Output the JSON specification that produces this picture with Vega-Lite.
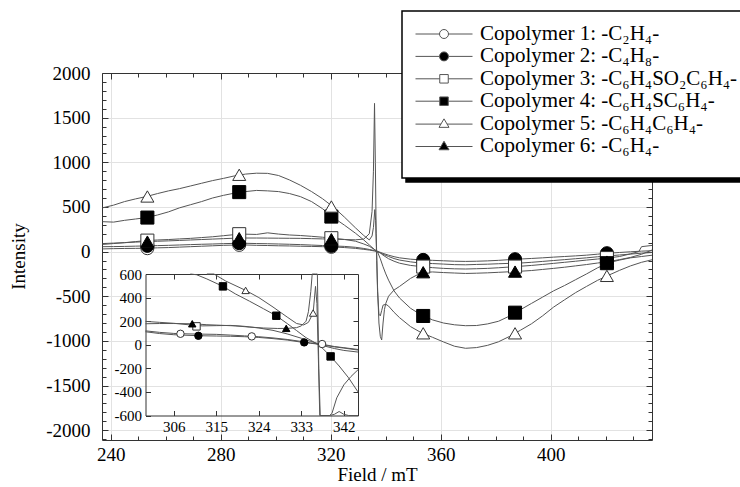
{
"$schema": "https://vega.github.io/schema/vega-lite/v6.json",
"width": 550, "height": 367,
"autosize": {"type": "none"},
"padding": {"left": 102, "top": 73, "right": 88, "bottom": 47},
"background": "white",
"config": {
  "font": "Liberation Serif",
  "view": {"stroke": null},
  "legend": {"strokeWidth": 1.5},
  "axis": {"labelFont": "Liberation Serif", "titleFont": "Liberation Serif", "labelColor": "black", "titleColor": "black", "titleFontWeight": "normal", "domainColor": "#333", "tickColor": "#333", "grid": false, "labelOverlap": false, "labelFlush": false, "labelBound": false}
},
"datasets": {
"legend": [
 {"name": "Copolymer 1: -C₂H₄-"},
 {"name": "Copolymer 2: -C₄H₈-"},
 {"name": "Copolymer 3: -C₆H₄SO₂C₆H₄-"},
 {"name": "Copolymer 4: -C₆H₄SC₆H₄-"},
 {"name": "Copolymer 5: -C₆H₄C₆H₄-"},
 {"name": "Copolymer 6: -C₆H₄-"}
],
"mainPts": [
 {"s":"1","x":253.3,"y":38},{"s":"1","x":286.7,"y":75},{"s":"1","x":320.2,"y":53},{"s":"1","x":353.6,"y":-130},{"s":"1","x":387.0,"y":-130},{"s":"1","x":420.4,"y":-48},
 {"s":"2","x":253.3,"y":64},{"s":"2","x":286.7,"y":94},{"s":"2","x":320.2,"y":64},{"s":"2","x":353.6,"y":-93},{"s":"2","x":387.0,"y":-85},{"s":"2","x":420.4,"y":-18},
 {"s":"3","x":253.3,"y":123},{"s":"3","x":286.7,"y":195},{"s":"3","x":320.2,"y":150},{"s":"3","x":353.6,"y":-168},{"s":"3","x":387.0,"y":-168},{"s":"3","x":420.4,"y":-73},
 {"s":"4","x":253.3,"y":381},{"s":"4","x":286.7,"y":666},{"s":"4","x":320.2,"y":392},{"s":"4","x":353.6,"y":-721},{"s":"4","x":387.0,"y":-684},{"s":"4","x":420.4,"y":-130},
 {"s":"5","x":253.3,"y":617},{"s":"5","x":286.7,"y":860},{"s":"5","x":320.2,"y":505},{"s":"5","x":353.6,"y":-915},{"s":"5","x":387.0,"y":-915},{"s":"5","x":420.4,"y":-272},
 {"s":"6","x":253.3,"y":112},{"s":"6","x":286.7,"y":150},{"s":"6","x":320.2,"y":139},{"s":"6","x":353.6,"y":-231},{"s":"6","x":387.0,"y":-224},{"s":"6","x":420.4,"y":-112}
],
"main": [
 {"s":"1","x":237,"y":30},{"s":"1","x":241,"y":33},{"s":"1","x":245,"y":35},{"s":"1","x":249,"y":36},{"s":"1","x":253,"y":38},{"s":"1","x":257,"y":42},{"s":"1","x":261,"y":45},{"s":"1","x":265,"y":50},{"s":"1","x":269,"y":55},{"s":"1","x":273,"y":60},{"s":"1","x":277,"y":65},{"s":"1","x":281,"y":70},{"s":"1","x":285,"y":73},{"s":"1","x":289,"y":74},{"s":"1","x":293,"y":70},{"s":"1","x":297,"y":68},{"s":"1","x":301,"y":65},{"s":"1","x":305,"y":63},{"s":"1","x":309,"y":60},{"s":"1","x":313,"y":58},{"s":"1","x":317,"y":55},{"s":"1","x":321,"y":52},{"s":"1","x":325,"y":45},{"s":"1","x":329,"y":36},{"s":"1","x":332,"y":25},{"s":"1","x":334,"y":17},{"s":"1","x":336,"y":6},{"s":"1","x":337,"y":-3},{"s":"1","x":338,"y":-15},{"s":"1","x":339,"y":-30},{"s":"1","x":341,"y":-55},{"s":"1","x":343,"y":-78},{"s":"1","x":345,"y":-95},{"s":"1","x":349,"y":-115},{"s":"1","x":353,"y":-130},{"s":"1","x":357,"y":-134},{"s":"1","x":361,"y":-140},{"s":"1","x":365,"y":-146},{"s":"1","x":369,"y":-148},{"s":"1","x":373,"y":-144},{"s":"1","x":377,"y":-141},{"s":"1","x":381,"y":-136},{"s":"1","x":385,"y":-132},{"s":"1","x":389,"y":-128},{"s":"1","x":393,"y":-120},{"s":"1","x":397,"y":-110},{"s":"1","x":401,"y":-100},{"s":"1","x":405,"y":-90},{"s":"1","x":409,"y":-80},{"s":"1","x":413,"y":-70},{"s":"1","x":417,"y":-58},{"s":"1","x":421,"y":-48},{"s":"1","x":425,"y":-38},{"s":"1","x":429,"y":-28},{"s":"1","x":433,"y":-18},{"s":"1","x":437,"y":-10},
 {"s":"2","x":237,"y":55},{"s":"2","x":241,"y":56},{"s":"2","x":245,"y":58},{"s":"2","x":249,"y":61},{"s":"2","x":253,"y":64},{"s":"2","x":257,"y":67},{"s":"2","x":261,"y":70},{"s":"2","x":265,"y":74},{"s":"2","x":269,"y":78},{"s":"2","x":273,"y":82},{"s":"2","x":277,"y":85},{"s":"2","x":281,"y":89},{"s":"2","x":285,"y":92},{"s":"2","x":289,"y":93},{"s":"2","x":293,"y":90},{"s":"2","x":297,"y":88},{"s":"2","x":301,"y":85},{"s":"2","x":305,"y":82},{"s":"2","x":309,"y":78},{"s":"2","x":313,"y":73},{"s":"2","x":317,"y":68},{"s":"2","x":321,"y":63},{"s":"2","x":325,"y":58},{"s":"2","x":329,"y":48},{"s":"2","x":332,"y":35},{"s":"2","x":334,"y":24},{"s":"2","x":336,"y":10},{"s":"2","x":337,"y":2},{"s":"2","x":338,"y":-8},{"s":"2","x":339,"y":-20},{"s":"2","x":341,"y":-40},{"s":"2","x":343,"y":-57},{"s":"2","x":345,"y":-70},{"s":"2","x":349,"y":-85},{"s":"2","x":353,"y":-93},{"s":"2","x":357,"y":-98},{"s":"2","x":361,"y":-103},{"s":"2","x":365,"y":-108},{"s":"2","x":369,"y":-110},{"s":"2","x":373,"y":-108},{"s":"2","x":377,"y":-104},{"s":"2","x":381,"y":-98},{"s":"2","x":385,"y":-90},{"s":"2","x":389,"y":-83},{"s":"2","x":393,"y":-77},{"s":"2","x":397,"y":-70},{"s":"2","x":401,"y":-62},{"s":"2","x":405,"y":-55},{"s":"2","x":409,"y":-48},{"s":"2","x":413,"y":-40},{"s":"2","x":417,"y":-29},{"s":"2","x":421,"y":-18},{"s":"2","x":425,"y":-10},{"s":"2","x":429,"y":-2},{"s":"2","x":433,"y":5},{"s":"2","x":437,"y":10},
 {"s":"3","x":237,"y":80},{"s":"3","x":241,"y":90},{"s":"3","x":245,"y":100},{"s":"3","x":249,"y":112},{"s":"3","x":253,"y":123},{"s":"3","x":257,"y":130},{"s":"3","x":261,"y":135},{"s":"3","x":265,"y":142},{"s":"3","x":269,"y":148},{"s":"3","x":273,"y":157},{"s":"3","x":277,"y":166},{"s":"3","x":281,"y":178},{"s":"3","x":285,"y":190},{"s":"3","x":289,"y":195},{"s":"3","x":293,"y":192},{"s":"3","x":297,"y":210},{"s":"3","x":301,"y":196},{"s":"3","x":305,"y":186},{"s":"3","x":309,"y":180},{"s":"3","x":313,"y":171},{"s":"3","x":317,"y":161},{"s":"3","x":321,"y":149},{"s":"3","x":325,"y":136},{"s":"3","x":329,"y":116},{"s":"3","x":332,"y":85},{"s":"3","x":334,"y":60},{"s":"3","x":336,"y":20},{"s":"3","x":337,"y":3},{"s":"3","x":338,"y":-15},{"s":"3","x":339,"y":-40},{"s":"3","x":341,"y":-80},{"s":"3","x":343,"y":-108},{"s":"3","x":345,"y":-130},{"s":"3","x":349,"y":-155},{"s":"3","x":353,"y":-168},{"s":"3","x":357,"y":-180},{"s":"3","x":361,"y":-188},{"s":"3","x":365,"y":-193},{"s":"3","x":369,"y":-195},{"s":"3","x":373,"y":-192},{"s":"3","x":377,"y":-188},{"s":"3","x":381,"y":-181},{"s":"3","x":385,"y":-173},{"s":"3","x":389,"y":-164},{"s":"3","x":393,"y":-155},{"s":"3","x":397,"y":-144},{"s":"3","x":401,"y":-132},{"s":"3","x":405,"y":-120},{"s":"3","x":409,"y":-108},{"s":"3","x":413,"y":-95},{"s":"3","x":417,"y":-83},{"s":"3","x":421,"y":-71},{"s":"3","x":425,"y":-55},{"s":"3","x":429,"y":-25},{"s":"3","x":432,"y":0},{"s":"3","x":433,"y":55},{"s":"3","x":437,"y":70},
 {"s":"4","x":237,"y":335},{"s":"4","x":241,"y":330},{"s":"4","x":245,"y":350},{"s":"4","x":249,"y":365},{"s":"4","x":253,"y":381},{"s":"4","x":257,"y":410},{"s":"4","x":261,"y":445},{"s":"4","x":265,"y":490},{"s":"4","x":269,"y":525},{"s":"4","x":273,"y":560},{"s":"4","x":277,"y":600},{"s":"4","x":281,"y":630},{"s":"4","x":285,"y":655},{"s":"4","x":289,"y":672},{"s":"4","x":293,"y":685},{"s":"4","x":297,"y":680},{"s":"4","x":301,"y":672},{"s":"4","x":305,"y":650},{"s":"4","x":309,"y":615},{"s":"4","x":313,"y":560},{"s":"4","x":317,"y":480},{"s":"4","x":321,"y":380},{"s":"4","x":325,"y":295},{"s":"4","x":329,"y":205},{"s":"4","x":332,"y":130},{"s":"4","x":334,"y":75},{"s":"4","x":336,"y":20},{"s":"4","x":337,"y":-5},{"s":"4","x":338,"y":-80},{"s":"4","x":339,"y":-170},{"s":"4","x":340,"y":-250},{"s":"4","x":341,"y":-320},{"s":"4","x":343,"y":-440},{"s":"4","x":345,"y":-520},{"s":"4","x":349,"y":-635},{"s":"4","x":353,"y":-712},{"s":"4","x":357,"y":-765},{"s":"4","x":361,"y":-800},{"s":"4","x":365,"y":-820},{"s":"4","x":369,"y":-830},{"s":"4","x":373,"y":-828},{"s":"4","x":377,"y":-810},{"s":"4","x":381,"y":-780},{"s":"4","x":385,"y":-722},{"s":"4","x":389,"y":-650},{"s":"4","x":393,"y":-580},{"s":"4","x":397,"y":-510},{"s":"4","x":401,"y":-440},{"s":"4","x":405,"y":-380},{"s":"4","x":409,"y":-315},{"s":"4","x":413,"y":-250},{"s":"4","x":417,"y":-182},{"s":"4","x":421,"y":-125},{"s":"4","x":425,"y":-95},{"s":"4","x":429,"y":-70},{"s":"4","x":433,"y":-55},{"s":"4","x":437,"y":-40},
 {"s":"5","x":237,"y":490},{"s":"5","x":241,"y":520},{"s":"5","x":245,"y":560},{"s":"5","x":249,"y":590},{"s":"5","x":253,"y":617},{"s":"5","x":257,"y":650},{"s":"5","x":261,"y":680},{"s":"5","x":265,"y":705},{"s":"5","x":269,"y":735},{"s":"5","x":273,"y":765},{"s":"5","x":277,"y":795},{"s":"5","x":281,"y":820},{"s":"5","x":285,"y":848},{"s":"5","x":289,"y":868},{"s":"5","x":293,"y":878},{"s":"5","x":297,"y":876},{"s":"5","x":301,"y":852},{"s":"5","x":305,"y":802},{"s":"5","x":309,"y":742},{"s":"5","x":313,"y":672},{"s":"5","x":317,"y":592},{"s":"5","x":321,"y":497},{"s":"5","x":325,"y":385},{"s":"5","x":329,"y":265},{"s":"5","x":332,"y":180},{"s":"5","x":334,"y":130},{"s":"5","x":335,"y":175},{"s":"5","x":335.5,"y":270},{"s":"5","x":336,"y":470},{"s":"5","x":336.3,"y":350},{"s":"5","x":336.7,"y":-100},{"s":"5","x":337,"y":-450},{"s":"5","x":337.5,"y":-700},{"s":"5","x":338,"y":-720},{"s":"5","x":338.5,"y":-660},{"s":"5","x":339,"y":-600},{"s":"5","x":340,"y":-590},{"s":"5","x":341,"y":-610},{"s":"5","x":343,"y":-680},{"s":"5","x":345,"y":-740},{"s":"5","x":349,"y":-840},{"s":"5","x":353,"y":-910},{"s":"5","x":357,"y":-960},{"s":"5","x":361,"y":-1012},{"s":"5","x":365,"y":-1060},{"s":"5","x":369,"y":-1083},{"s":"5","x":373,"y":-1075},{"s":"5","x":377,"y":-1050},{"s":"5","x":381,"y":-1010},{"s":"5","x":385,"y":-950},{"s":"5","x":389,"y":-880},{"s":"5","x":393,"y":-808},{"s":"5","x":397,"y":-720},{"s":"5","x":401,"y":-622},{"s":"5","x":405,"y":-540},{"s":"5","x":409,"y":-460},{"s":"5","x":413,"y":-390},{"s":"5","x":417,"y":-322},{"s":"5","x":421,"y":-265},{"s":"5","x":425,"y":-210},{"s":"5","x":429,"y":-160},{"s":"5","x":433,"y":-120},{"s":"5","x":437,"y":-90},
 {"s":"6","x":237,"y":90},{"s":"6","x":241,"y":95},{"s":"6","x":245,"y":100},{"s":"6","x":249,"y":106},{"s":"6","x":253,"y":112},{"s":"6","x":257,"y":116},{"s":"6","x":261,"y":120},{"s":"6","x":265,"y":125},{"s":"6","x":269,"y":130},{"s":"6","x":273,"y":135},{"s":"6","x":277,"y":140},{"s":"6","x":281,"y":145},{"s":"6","x":285,"y":150},{"s":"6","x":289,"y":152},{"s":"6","x":293,"y":152},{"s":"6","x":297,"y":151},{"s":"6","x":301,"y":150},{"s":"6","x":305,"y":149},{"s":"6","x":309,"y":148},{"s":"6","x":313,"y":145},{"s":"6","x":317,"y":142},{"s":"6","x":321,"y":139},{"s":"6","x":325,"y":135},{"s":"6","x":329,"y":132},{"s":"6","x":332,"y":140},{"s":"6","x":334,"y":200},{"s":"6","x":335,"y":450},{"s":"6","x":335.5,"y":900},{"s":"6","x":335.9,"y":1660},{"s":"6","x":336.2,"y":1000},{"s":"6","x":336.5,"y":200},{"s":"6","x":337,"y":-400},{"s":"6","x":337.5,"y":-800},{"s":"6","x":338,"y":-950},{"s":"6","x":338.5,"y":-990},{"s":"6","x":339,"y":-800},{"s":"6","x":339.5,"y":-650},{"s":"6","x":340,"y":-580},{"s":"6","x":341,"y":-500},{"s":"6","x":343,"y":-430},{"s":"6","x":345,"y":-390},{"s":"6","x":349,"y":-300},{"s":"6","x":353,"y":-235},{"s":"6","x":357,"y":-228},{"s":"6","x":361,"y":-235},{"s":"6","x":365,"y":-240},{"s":"6","x":369,"y":-245},{"s":"6","x":373,"y":-242},{"s":"6","x":377,"y":-238},{"s":"6","x":381,"y":-232},{"s":"6","x":385,"y":-226},{"s":"6","x":389,"y":-220},{"s":"6","x":393,"y":-212},{"s":"6","x":397,"y":-200},{"s":"6","x":401,"y":-188},{"s":"6","x":405,"y":-175},{"s":"6","x":409,"y":-160},{"s":"6","x":413,"y":-145},{"s":"6","x":417,"y":-128},{"s":"6","x":421,"y":-112},{"s":"6","x":425,"y":-90},{"s":"6","x":429,"y":-65},{"s":"6","x":433,"y":-30},{"s":"6","x":437,"y":20}
],
"insetPts": [
 {"s":"1","x":307.4,"y":93},{"s":"1","x":322.5,"y":71},{"s":"1","x":337.4,"y":6},
 {"s":"2","x":311.2,"y":76},{"s":"2","x":333.6,"y":20},
 {"s":"3","x":310.8,"y":156},
 {"s":"4","x":316.4,"y":495},{"s":"4","x":327.7,"y":246},{"s":"4","x":339.2,"y":-99},
 {"s":"5","x":321.2,"y":461},{"s":"5","x":335.5,"y":269},
 {"s":"6","x":309.9,"y":178},{"s":"6","x":329.8,"y":139}
],
"inset": [
 {"s":"1","x":300,"y":118},{"s":"1","x":303,"y":105},{"s":"1","x":306,"y":96},{"s":"1","x":309,"y":92},{"s":"1","x":312,"y":90},{"s":"1","x":315,"y":88},{"s":"1","x":318,"y":82},{"s":"1","x":321,"y":75},{"s":"1","x":324,"y":68},{"s":"1","x":327,"y":58},{"s":"1","x":330,"y":45},{"s":"1","x":333,"y":28},{"s":"1","x":335,"y":15},{"s":"1","x":336.7,"y":6},{"s":"1","x":338,"y":0},{"s":"1","x":340,"y":-15},{"s":"1","x":342,"y":-25},{"s":"1","x":345,"y":-40},
 {"s":"2","x":300,"y":110},{"s":"2","x":303,"y":95},{"s":"2","x":306,"y":85},{"s":"2","x":309,"y":80},{"s":"2","x":312,"y":76},{"s":"2","x":315,"y":74},{"s":"2","x":318,"y":72},{"s":"2","x":321,"y":68},{"s":"2","x":324,"y":62},{"s":"2","x":327,"y":52},{"s":"2","x":330,"y":40},{"s":"2","x":333,"y":22},{"s":"2","x":335,"y":12},{"s":"2","x":336.7,"y":5},{"s":"2","x":338,"y":-5},{"s":"2","x":340,"y":-18},{"s":"2","x":342,"y":-28},{"s":"2","x":345,"y":-45},
 {"s":"3","x":300,"y":198},{"s":"3","x":303,"y":190},{"s":"3","x":306,"y":182},{"s":"3","x":309,"y":170},{"s":"3","x":312,"y":160},{"s":"3","x":315,"y":162},{"s":"3","x":318,"y":164},{"s":"3","x":321,"y":156},{"s":"3","x":324,"y":142},{"s":"3","x":327,"y":122},{"s":"3","x":330,"y":92},{"s":"3","x":333,"y":55},{"s":"3","x":335,"y":28},{"s":"3","x":336.7,"y":8},{"s":"3","x":338,"y":-12},{"s":"3","x":340,"y":-32},{"s":"3","x":342,"y":-48},{"s":"3","x":345,"y":-62},
 {"s":"4","x":309.5,"y":625},{"s":"4","x":310.8,"y":594},{"s":"4","x":313,"y":558},{"s":"4","x":316.4,"y":495},{"s":"4","x":319,"y":432},{"s":"4","x":322,"y":370},{"s":"4","x":325,"y":305},{"s":"4","x":327.7,"y":246},{"s":"4","x":330,"y":180},{"s":"4","x":332,"y":120},{"s":"4","x":334,"y":60},{"s":"4","x":336,"y":15},{"s":"4","x":337.5,"y":-30},{"s":"4","x":339.2,"y":-99},{"s":"4","x":341,"y":-180},{"s":"4","x":343,"y":-280},{"s":"4","x":345,"y":-400},
 {"s":"5","x":313,"y":630},{"s":"5","x":314.5,"y":600},{"s":"5","x":317,"y":540},{"s":"5","x":321.2,"y":461},{"s":"5","x":324,"y":400},{"s":"5","x":327,"y":320},{"s":"5","x":330,"y":235},{"s":"5","x":332,"y":180},{"s":"5","x":333.5,"y":168},{"s":"5","x":334.5,"y":190},{"s":"5","x":335.5,"y":269},{"s":"5","x":336,"y":495},{"s":"5","x":336.3,"y":350},{"s":"5","x":336.6,"y":-100},{"s":"5","x":336.9,"y":-700},{"s":"5","x":338,"y":-800},{"s":"5","x":339,"y":-650},{"s":"5","x":340,"y":-590},{"s":"5","x":341,"y":-566},{"s":"5","x":342,"y":-590},{"s":"5","x":343,"y":-640},{"s":"5","x":345,"y":-700},
 {"s":"6","x":300,"y":178},{"s":"6","x":303,"y":180},{"s":"6","x":306,"y":180},{"s":"6","x":309.9,"y":178},{"s":"6","x":313,"y":170},{"s":"6","x":316,"y":165},{"s":"6","x":319,"y":160},{"s":"6","x":322,"y":150},{"s":"6","x":325,"y":142},{"s":"6","x":328,"y":138},{"s":"6","x":330,"y":139},{"s":"6","x":332,"y":145},{"s":"6","x":333,"y":160},{"s":"6","x":334,"y":200},{"s":"6","x":334.5,"y":280},{"s":"6","x":335,"y":450},{"s":"6","x":335.3,"y":650},{"s":"6","x":336,"y":1500},{"s":"6","x":336.4,"y":700},{"s":"6","x":336.7,"y":-200},{"s":"6","x":337,"y":-900},{"s":"6","x":338,"y":-1000},{"s":"6","x":339,"y":-700},{"s":"6","x":339.5,"y":-580},{"s":"6","x":340.5,"y":-450},{"s":"6","x":342,"y":-340},{"s":"6","x":343.5,"y":-270},{"s":"6","x":345,"y":-212}
]
},
"layer": [
 {
  "layer": [
   {
    "data": {"name": "main"},
    "mark": {"type": "line", "color": "#555", "strokeWidth": 1, "clip": true},
    "encoding": {
     "x": {"field": "x", "type": "quantitative", "scale": {"domain": [236.8, 436.8], "nice": false, "zero": false},
       "axis": {"orient": "bottom", "values": [240, 280, 320, 360, 400], "tickSize": -6, "labelPadding": 11, "labelFontSize": 19, "labelExpr": "'' + datum.value", "grid": true, "gridColor": "#e2e2e2", "domain": true, "title": "Field / mT", "titleFontSize": 19, "titleX": 275, "titleY": 34, "titleBaseline": "middle", "titleAlign": "center"}},
     "y": {"field": "y", "type": "quantitative", "scale": {"domain": [-2110, 2000], "nice": false, "zero": false},
       "axis": {"orient": "left", "values": [-2000, -1500, -1000, -500, 0, 500, 1000, 1500, 2000], "tickSize": -6, "labelPadding": 18, "labelFontSize": 19, "labelExpr": "'' + datum.value", "grid": true, "gridColor": "#e2e2e2", "domain": true, "title": "Intensity", "titleFontSize": 19, "titleX": -84, "titleY": 183, "titleAngle": 270, "titleBaseline": "middle", "titleAlign": "center"}},
     "detail": {"field": "s", "type": "nominal"}
    }
   },
   {
    "data": {"name": "mainPts"},
    "mark": {"type": "point", "size": 170, "strokeWidth": 1, "opacity": 1},
    "encoding": {
     "x": {"field": "x", "type": "quantitative", "axis": {"orient": "bottom", "values": [250, 260, 270, 290, 300, 310, 330, 340, 350, 370, 380, 390, 410, 420, 430], "tickSize": -4, "labels": false, "domain": false, "grid": false, "title": null}},
     "y": {"field": "y", "type": "quantitative", "axis": {"orient": "left", "values": [-2100, -1900, -1800, -1700, -1600, -1400, -1300, -1200, -1100, -900, -800, -700, -600, -400, -300, -200, -100, 100, 200, 300, 400, 600, 700, 800, 900, 1100, 1200, 1300, 1400, 1600, 1700, 1800, 1900], "tickSize": -4, "labels": false, "domain": false, "grid": false, "title": null}},
     "shape": {"field": "s", "type": "nominal", "scale": {"domain": ["1", "2", "3", "4", "5", "6"], "range": ["circle", "circle", "square", "square", "triangle-up", "triangle-up"]}, "legend": null},
     "fill": {"field": "s", "type": "nominal", "scale": {"domain": ["1", "2", "3", "4", "5", "6"], "range": ["white", "black", "white", "black", "white", "black"]}, "legend": null},
     "stroke": {"field": "s", "type": "nominal", "scale": {"domain": ["1", "2", "3", "4", "5", "6"], "range": ["#333", "black", "#333", "black", "#333", "black"]}, "legend": null}
    }
   },
   {
    "data": {"name": "mainPts"},
    "mark": {"type": "point", "opacity": 0},
    "encoding": {
     "x": {"field": "x", "type": "quantitative", "axis": {"orient": "top", "values": [240, 280, 320, 360, 400], "tickSize": -6, "labels": false, "domain": true, "grid": false, "title": null}},
     "y": {"field": "y", "type": "quantitative", "axis": {"orient": "right", "values": [-2000, -1500, -1000, -500, 0, 500, 1000, 1500, 2000], "tickSize": -6, "labels": false, "domain": true, "grid": false, "title": null}}
    }
   },
   {
    "data": {"name": "mainPts"},
    "mark": {"type": "point", "opacity": 0},
    "encoding": {
     "x": {"field": "x", "type": "quantitative", "axis": {"orient": "top", "values": [250, 260, 270, 290, 300, 310, 330, 340, 350, 370, 380, 390, 410, 420, 430], "tickSize": -4, "labels": false, "domain": false, "grid": false, "title": null}},
     "y": {"field": "y", "type": "quantitative", "axis": {"orient": "right", "values": [-2100, -1900, -1800, -1700, -1600, -1400, -1300, -1200, -1100, -900, -800, -700, -600, -400, -300, -200, -100, 100, 200, 300, 400, 600, 700, 800, 900, 1100, 1200, 1300, 1400, 1600, 1700, 1800, 1900], "tickSize": -4, "labels": false, "domain": false, "grid": false, "title": null}}
    }
   }
  ],
  "resolve": {"axis": {"x": "independent", "y": "independent"}}
 },
 {
  "layer": [
   {
    "data": {"name": "inset"},
    "mark": {"type": "line", "color": "#555", "strokeWidth": 1},
    "encoding": {
     "x": {"field": "x", "type": "quantitative", "scale": {"domain": [300, 345], "range": [43.5, 256], "nice": false, "zero": false},
       "axis": {"orient": "bottom", "offset": -24.5, "values": [306, 315, 324, 333, 342], "tickSize": -5, "labelPadding": 9, "labelFontSize": 15, "labelExpr": "'' + datum.value", "domain": true, "grid": false, "title": null}},
     "y": {"field": "y", "type": "quantitative", "scale": {"domain": [-600, 600], "range": [342.5, 201], "nice": false, "zero": false, "clamp": true},
       "axis": {"orient": "left", "offset": -43.5, "values": [-600, -400, -200, 0, 200, 400, 600], "tickSize": -5, "labelPadding": 9, "labelFontSize": 15, "labelExpr": "'' + datum.value", "domain": true, "grid": false, "title": null}},
     "detail": {"field": "s", "type": "nominal"}
    }
   },
   {
    "data": {"name": "insetPts"},
    "mark": {"type": "point", "size": 55, "strokeWidth": 1, "opacity": 1},
    "encoding": {
     "x": {"field": "x", "type": "quantitative", "axis": {"orient": "top", "offset": -201, "values": [306, 315, 324, 333, 342], "tickSize": -5, "labels": false, "domain": true, "grid": false, "title": null}},
     "y": {"field": "y", "type": "quantitative", "axis": {"orient": "right", "offset": -294, "values": [-400, -200, 0, 200, 400], "tickSize": -5, "labels": false, "domain": true, "grid": false, "title": null}},
     "shape": {"field": "s", "type": "nominal", "scale": {"domain": ["1", "2", "3", "4", "5", "6"], "range": ["circle", "circle", "square", "square", "triangle-up", "triangle-up"]}, "legend": null},
     "fill": {"field": "s", "type": "nominal", "scale": {"domain": ["1", "2", "3", "4", "5", "6"], "range": ["white", "black", "white", "black", "white", "black"]}, "legend": null},
     "stroke": {"field": "s", "type": "nominal", "scale": {"domain": ["1", "2", "3", "4", "5", "6"], "range": ["#333", "black", "#333", "black", "#333", "black"]}, "legend": null}
    }
   }
  ],
  "resolve": {"axis": {"x": "independent", "y": "independent"}}
 },
 {
  "data": {"name": "legend"},
  "transform": [{"filter": "isValid(datum.name)"}],
  "mark": {"type": "point", "size": 0, "filled": true},
  "encoding": {
   "color": {"field": "name", "type": "nominal", "scale": {"range": ["black"]},
     "legend": {"orient": "none", "legendX": 304, "legendY": -58, "title": " ", "titleOrient": "bottom", "titleFontSize": 6, "titlePadding": 3, "fillColor": "black", "strokeColor": "black", "padding": 12.5, "symbolSize": 100, "symbolOffset": 19, "labelOffset": 25.5, "labelFont": "Liberation Serif", "labelFontSize": 21, "labelColor": "black", "labelLimit": 600, "rowPadding": 0.4, "zindex": 1}}
  }
 },
 {
  "data": {"name": "legend"},
  "mark": {"type": "point", "opacity": 0},
  "encoding": {
   "shape": {"field": "name", "type": "nominal",
     "scale": {"domain": ["Copolymer 1: -C₂H₄-", "Copolymer 2: -C₄H₈-", "Copolymer 3: -C₆H₄SO₂C₆H₄-", "Copolymer 4: -C₆H₄SC₆H₄-", "Copolymer 5: -C₆H₄C₆H₄-", "Copolymer 6: -C₆H₄-"],
       "range": ["M-5.7,0H-0.9M0.9,0H5.7M-0.9,0A0.9,0.9,0,1,1,0.9,0A0.9,0.9,0,1,1,-0.9,0Z", "M-5.7,0H-0.9M0.9,0H5.7M-0.9,0A0.9,0.9,0,1,1,0.9,0A0.9,0.9,0,1,1,-0.9,0Z", "M-5.7,0H-0.85M0.85,0H5.7M-0.85,-0.85H0.85V0.85H-0.85Z", "M-5.7,0H-0.85M0.85,0H5.7M-0.85,-0.85H0.85V0.85H-0.85Z", "M-5.7,0.1H-0.6M0.6,0.1H5.7M0,-0.95L1,0.75H-1Z", "M-5.7,0.1H-0.6M0.6,0.1H5.7M0,-0.95L1,0.75H-1Z"]},
     "legend": {"orient": "none", "legendX": 300, "legendY": -62, "title": " ", "titleOrient": "bottom", "titleFontSize": 6, "titlePadding": 3, "fillColor": "white", "strokeColor": "black", "padding": 12.5, "symbolSize": 100, "symbolStrokeWidth": 1, "symbolOpacity": 1, "symbolOffset": 19, "labelOffset": 25.5, "labelFont": "Liberation Serif", "labelFontSize": 21, "labelColor": "black", "labelLimit": 600, "rowPadding": 0.4, "zindex": 2}},
   "fill": {"field": "name", "type": "nominal",
     "scale": {"domain": ["Copolymer 1: -C₂H₄-", "Copolymer 2: -C₄H₈-", "Copolymer 3: -C₆H₄SO₂C₆H₄-", "Copolymer 4: -C₆H₄SC₆H₄-", "Copolymer 5: -C₆H₄C₆H₄-", "Copolymer 6: -C₆H₄-"], "range": ["white", "black", "white", "black", "white", "black"]},
     "legend": {"orient": "none", "legendX": 300, "legendY": -62, "title": " ", "titleOrient": "bottom", "titleFontSize": 6, "titlePadding": 3, "fillColor": "white", "strokeColor": "black", "padding": 12.5, "symbolSize": 100, "symbolStrokeWidth": 1, "symbolOpacity": 1, "symbolOffset": 19, "labelOffset": 25.5, "labelFont": "Liberation Serif", "labelFontSize": 21, "labelColor": "black", "labelLimit": 600, "rowPadding": 0.4, "zindex": 2}},
   "stroke": {"field": "name", "type": "nominal",
     "scale": {"domain": ["Copolymer 1: -C₂H₄-", "Copolymer 2: -C₄H₈-", "Copolymer 3: -C₆H₄SO₂C₆H₄-", "Copolymer 4: -C₆H₄SC₆H₄-", "Copolymer 5: -C₆H₄C₆H₄-", "Copolymer 6: -C₆H₄-"], "range": ["#555", "#555", "#555", "#555", "#555", "#555"]},
     "legend": {"orient": "none", "legendX": 300, "legendY": -62, "title": " ", "titleOrient": "bottom", "titleFontSize": 6, "titlePadding": 3, "fillColor": "white", "strokeColor": "black", "padding": 12.5, "symbolSize": 100, "symbolStrokeWidth": 1, "symbolOpacity": 1, "symbolOffset": 19, "labelOffset": 25.5, "labelFont": "Liberation Serif", "labelFontSize": 21, "labelColor": "black", "labelLimit": 600, "rowPadding": 0.4, "zindex": 2}}
  }
 }
],
"resolve": {
 "scale": {"x": "independent", "y": "independent", "shape": "independent", "fill": "independent", "stroke": "independent", "color": "independent"},
 "axis": {"x": "independent", "y": "independent"},
 "legend": {"shape": "independent", "fill": "independent", "stroke": "independent", "color": "independent"}
}
}
